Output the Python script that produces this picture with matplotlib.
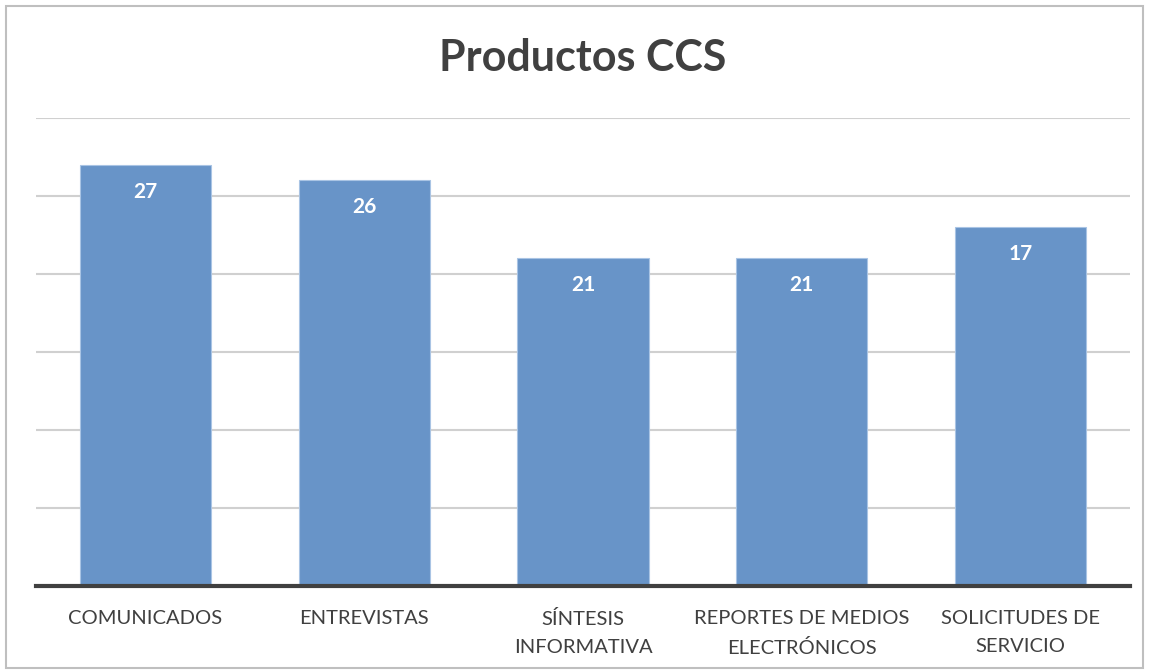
import matplotlib
matplotlib.use("Agg")
import matplotlib.pyplot as plt
from matplotlib.patches import Rectangle

categories = ["COMUNICADOS", "ENTREVISTAS", "SÍNTESIS\nINFORMATIVA",
              "REPORTES DE MEDIOS\nELECTRÓNICOS", "SOLICITUDES DE\nSERVICIO"]
bar_values = [27, 26, 21, 21, 23]
label_values = [27, 26, 21, 21, 17]

plt.rcParams['font.family'] = ['Lato', 'DejaVu Sans']

fig = plt.figure(figsize=(11.49, 6.72), dpi=100)
fig.patches.append(Rectangle((6/1149, 1-668/672), 1137/1149, 662/672, transform=fig.transFigure,
                             fill=False, edgecolor='#bfbfbf', linewidth=1.5))
ax = fig.add_axes([36/1149, 1-586/672, 1094/1149, 468/672])

x = list(range(len(categories)))
bars = ax.bar(x, bar_values, width=0.6, color='#6894c8', edgecolor='#a9c4e4', linewidth=0.8, zorder=3)
ax.set_xlim(-0.5, 4.5)
ax.set_ylim(0, 30)
ax.set_yticks([5, 10, 15, 20, 25, 30])
ax.yaxis.grid(True, color='#d0d0d0', linewidth=1.5, zorder=0)
ax.tick_params(axis='y', left=False, labelleft=False)
ax.tick_params(axis='x', bottom=False, pad=14)
ax.set_xticks(x)
ax.set_xticklabels(categories, fontsize=14.5, color='#404040', linespacing=1.75)
for s in ['top', 'right', 'left']:
    ax.spines[s].set_visible(False)
ax.spines['bottom'].set_color('#404040')
ax.spines['bottom'].set_linewidth(3)
ax.spines['bottom'].set_zorder(4)

for rect, lab in zip(bars, label_values):
    ax.annotate(str(lab), (rect.get_x() + rect.get_width()/2, rect.get_height()),
                xytext=(0, -27), textcoords='offset pixels', ha='center', va='center',
                color='white', fontsize=15, fontweight='bold', zorder=5)

fig.text(583/1149, 1-58/672, "Productos CCS", ha='center', va='center',
         fontsize=31, fontweight='bold', color='#404040')

fig.savefig("out.png", dpi=100)
